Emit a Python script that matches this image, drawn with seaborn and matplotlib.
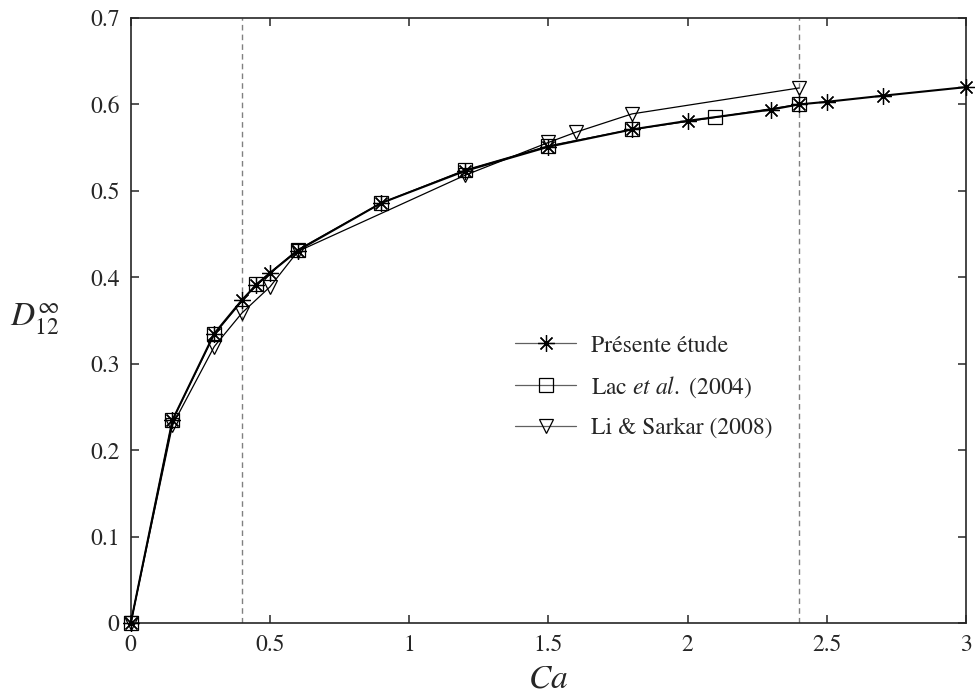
import matplotlib
matplotlib.use("Agg")
import matplotlib.pyplot as plt
import seaborn as sns

# Présente étude
ca_present = [0, 0.15, 0.3, 0.4, 0.45, 0.5, 0.6, 0.9, 1.2, 1.5, 1.8, 2.0, 2.3, 2.4, 2.5, 2.7, 3.0]
d_present = [0, 0.235, 0.335, 0.374, 0.391, 0.405, 0.431, 0.486, 0.523, 0.551, 0.571, 0.581, 0.594, 0.600, 0.603, 0.610, 0.620]

# Lac et al. (2004)
ca_lac = [0, 0.15, 0.3, 0.45, 0.6, 0.9, 1.2, 1.5, 1.8, 2.1, 2.4]
d_lac = [0, 0.235, 0.334, 0.392, 0.432, 0.486, 0.524, 0.552, 0.571, 0.585, 0.600]

# Li & Sarkar (2008)
ca_li = [0, 0.15, 0.3, 0.4, 0.5, 0.6, 1.2, 1.5, 1.6, 1.8, 2.4]
d_li = [0, 0.229, 0.320, 0.359, 0.389, 0.430, 0.518, 0.556, 0.568, 0.589, 0.619]

vlines_ca = [0.4, 2.4]

xticks = [0, 0.5, 1, 1.5, 2, 2.5, 3]
xtick_labels = ["0", "0.5", "1", "1.5", "2", "2.5", "3"]
yticks = [0, 0.1, 0.2, 0.3, 0.4, 0.5, 0.6, 0.7]
ytick_labels = ["0", "0.1", "0.2", "0.3", "0.4", "0.5", "0.6", "0.7"]

sns.set_style("ticks")
plt.rcParams["font.family"] = ["STIXGeneral", "DejaVu Serif"]
plt.rcParams["mathtext.fontset"] = "stix"

fig = plt.figure(figsize=(9.77, 6.95), dpi=100)
ax = fig.add_axes([0.1338, 0.1032, 0.855, 0.871])

for x in vlines_ca:
    ax.axvline(x, color="#808080", lw=1.0, ls=(0, (4, 3)), zorder=1)

sns.lineplot(x=ca_li, y=d_li, ax=ax, color="black", lw=0.9,
             marker="v", markersize=10, markerfacecolor="none",
             markeredgecolor="black", markeredgewidth=0.9,
             label="Li & Sarkar (2008)", zorder=2, clip_on=False)
sns.lineplot(x=ca_lac, y=d_lac, ax=ax, color="black", lw=0.9,
             marker="s", markersize=10, markerfacecolor="none",
             markeredgecolor="black", markeredgewidth=0.9,
             label=r"Lac $\mathit{et\ al.}$ (2004)", zorder=3, clip_on=False)
sns.lineplot(x=ca_present, y=d_present, ax=ax, color="black", lw=1.5,
             marker=(8, 2, 0), markersize=12,
             markeredgecolor="black", markeredgewidth=0.9,
             label="Présente étude", zorder=4, clip_on=False)

ax.set_xlim(0, 3)
ax.set_ylim(0, 0.7)
ax.set_xticks(xticks)
ax.set_xticklabels(xtick_labels)
ax.set_yticks(yticks)
ax.set_yticklabels(ytick_labels)
ax.tick_params(direction="in", length=6, width=1.1, top=True, right=True,
               labelsize=17, pad=8)
for sp in ax.spines.values():
    sp.set_linewidth(1.2)
    sp.set_visible(True)

ax.set_xlabel(r"$Ca$", fontsize=24, va="center")
ax.xaxis.set_label_coords(0.5, -0.094)
ax.set_ylabel(r"$D_{12}^{\infty}$", fontsize=24, rotation=0, ha="center", va="center")
ax.yaxis.set_label_coords(-0.115, 0.504)

handles, labels = ax.get_legend_handles_labels()
order = [2, 1, 0]
leg = ax.legend([handles[i] for i in order], [labels[i] for i in order],
                loc="upper left", bbox_to_anchor=(515 / 977, 1 - 335 / 695),
                bbox_transform=fig.transFigure, frameon=False, fontsize=17,
                handlelength=2.6, handletextpad=0.6, labelspacing=0.75,
                borderpad=0, borderaxespad=0)
for line in leg.get_lines():
    line.set_color("#606060")
    line.set_linewidth(0.9)
    line.set_markeredgecolor("black")

fig.savefig("out.png", dpi=100)
